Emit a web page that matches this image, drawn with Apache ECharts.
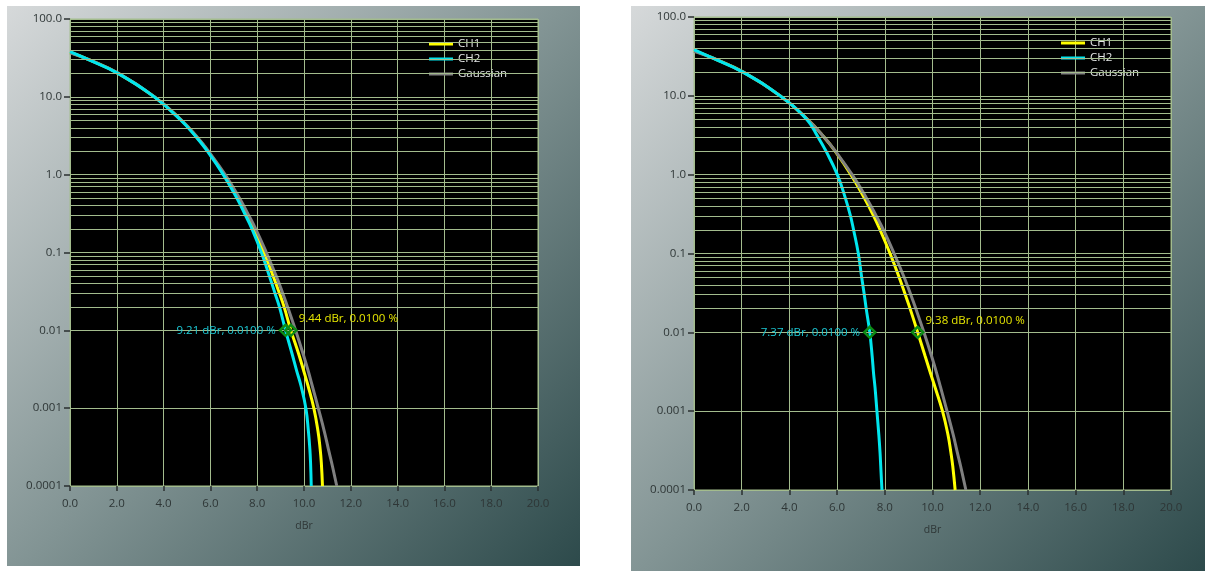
<!DOCTYPE html>
<html><head><meta charset="utf-8">
<script src="https://cdn.jsdelivr.net/npm/echarts@6/dist/echarts.min.js"></script>
<style>html,body{margin:0;padding:0;background:#fff;}#c{width:1205px;height:571px;}</style>
</head><body><div id="c"></div>
<script>
// ---- data ----
const xTickLabels = ['0.0','2.0','4.0','6.0','8.0','10.0','12.0','14.0','16.0','18.0','20.0'];
const yTickLabels = ['0.0001','0.001','0.01','0.1','1.0','10.0','100.0'];
const seriesNames = ['CH1','CH2','Gaussian'];
const xAxisName = 'dBr';
// probability levels (%) shared by the curves (after the x = 0 start point)
const levels = [30,20,10,5,3,2,1,0.5,0.3,0.2,0.1,0.05,0.03,0.02,0.01,0.005,0.003,0.002,0.001,0.0005,0.0003,0.0002,0.0001];
const gaussStart = 36.8;
const gaussX = [0.81,2.07,3.62,4.77,5.45,5.92,6.63,7.24,7.64,7.94,8.39,8.81,9.09,9.30,9.64,9.96,10.18,10.34,10.61,10.87,11.04,11.18,11.40];
// left panel
const leftCh1Start = 37.4;
const leftCh1X = [0.80,2.06,3.61,4.76,5.43,5.90,6.59,7.18,7.57,7.86,8.29,8.68,8.95,9.15,9.44,9.77,9.99,10.16,10.42,10.60,10.69,10.74,10.79];
const leftCh2Start = 38.0;
const leftCh2X = [0.79,2.05,3.60,4.74,5.41,5.87,6.55,7.13,7.50,7.78,8.18,8.52,8.76,8.95,9.21,9.49,9.69,9.86,10.08,10.19,10.25,10.28,10.31];
// right panel
const rightCh1Start = 37.4;
const rightCh1X = [0.80,2.07,3.62,4.77,5.45,5.91,6.58,7.15,7.53,7.80,8.22,8.60,8.86,9.06,9.38,9.69,9.92,10.11,10.42,10.65,10.77,10.85,10.95];
const rightCh2Start = 38.6;
const rightCh2X = [0.79,2.05,3.61,4.73,5.20,5.53,6.01,6.35,6.56,6.69,6.89,7.03,7.14,7.22,7.37,7.47,7.53,7.59,7.67,7.75,7.80,7.83,7.88];
// cursor markers at 0.01 %
const markerLevel = 0.01;
const leftMarkers = {CH1: 9.44, CH2: 9.21};
const rightMarkers = {CH1: 9.38, CH2: 7.37};
const minorMultipliers = [2,3,4,5,6,7,8,9];
const decades = [0.0001,0.001,0.01,0.1,1,10];

// ---- styling ----
const gridColor = '#a3bc8d';
const colors = {CH1:'#ffff00', CH2:'#00e6ee', Gaussian:'#808080'};
const labelColors = {CH1:'#e6e600', CH2:'#1cc8d4'};
const FONT = '"Open Sans", "Noto Sans", sans-serif';

function curve(start, xs){
  const d = [[0, start]];
  for (let i = 0; i < xs.length; i++) d.push([xs[i], levels[i]]);
  return d;
}
const minorVals = [];
decades.forEach(d => minorMultipliers.forEach(m => minorVals.push(+(m*d).toPrecision(3))));

const panels = [
  {grid:{left:70, top:19, width:468, height:467}, legend:{left:429, top:38},
   ch1: curve(leftCh1Start, leftCh1X), ch2: curve(leftCh2Start, leftCh2X), mk: leftMarkers},
  {grid:{left:694, top:17, width:477, height:473}, legend:{left:1061, top:37},
   ch1: curve(rightCh1Start, rightCh1X), ch2: curve(rightCh2Start, rightCh2X), mk: rightMarkers}
];

const bgGrad = () => new echarts.graphic.LinearGradient(0,0,1,1,[{offset:0,color:'#d6d9da'},{offset:0.5,color:'#829494'},{offset:1,color:'#2d4a4b'}]);
const option = {
  animation:false,
  backgroundColor:'#ffffff',
  graphic:[
    {type:'rect', z:-100, shape:{x:7,y:6,width:573,height:560}, style:{fill:bgGrad()}},
    {type:'rect', z:-100, shape:{x:631,y:6,width:574,height:565}, style:{fill:bgGrad()}}
  ],
  grid:[], xAxis:[], yAxis:[], legend:[], series:[]
};

panels.forEach((p, gi) => {
  option.grid.push(Object.assign({show:true, backgroundColor:'#000', borderColor:gridColor, borderWidth:1}, p.grid));
  option.xAxis.push({
    type:'value', gridIndex:gi, min:0, max:20, interval:2,
    name:xAxisName, nameLocation:'middle', nameGap:35,
    nameTextStyle:{color:'#2e3636', fontSize:10.5, fontFamily:FONT},
    axisLine:{show:true, lineStyle:{color:gridColor}},
    axisTick:{show:true, length:5, lineStyle:{color:'#2a2f2f', width:1.5}},
    axisLabel:{color:'#2e3636', fontSize:11.5, fontFamily:FONT, margin:12,
      formatter:v => xTickLabels[Math.round(v/2)]},
    splitLine:{show:true, lineStyle:{color:gridColor, width:1}}
  });
  option.yAxis.push({
    type:'log', logBase:10, gridIndex:gi, min:0.0001, max:100,
    axisLine:{show:true, lineStyle:{color:gridColor}},
    axisTick:{show:true, length:6, lineStyle:{color:'#2a2f2f', width:1.5}},
    axisLabel:{color:'#2e3636', fontSize:11.5, fontFamily:FONT, margin:8,
      formatter:v => yTickLabels[Math.round(Math.log10(v)) + 4]},
    splitLine:{show:true, lineStyle:{color:gridColor, width:1}}
  });
  option.legend.push({
    orient:'vertical', left:p.legend.left, top:p.legend.top, padding:0,
    itemWidth:24, itemHeight:3, itemGap:3,
    icon:'rect', data:seriesNames,
    textStyle:{color:'#e4e6e6', fontSize:11.5, fontFamily:FONT}
  });
  // minor log grid lines
  option.series.push({
    type:'line', xAxisIndex:gi, yAxisIndex:gi, data:[], z:1, silent:true,
    markLine:{silent:true, symbol:'none', animation:false, label:{show:false},
      lineStyle:{color:gridColor, width:1, type:'solid'},
      data:minorVals.map(v => ({yAxis:v}))}
  });
  const base = {type:'line', xAxisIndex:gi, yAxisIndex:gi, showSymbol:false, smooth:0.45, z:3};
  const mkp = (name) => ({
    symbol:'diamond', symbolSize:11, animation:false,
    itemStyle:{color:'rgba(0,0,0,0)', borderColor:'#0c8c14', borderWidth:2.5},
    label:{show:true, formatter: p.mk[name].toFixed(2) + ' dBr, ' + markerLevel.toFixed(4) + ' %',
      color:labelColors[name], fontSize:11.5, fontFamily:FONT,
      position: name === 'CH2' ? 'left' : 'right',
      distance: name === 'CH2' ? 3 : 1,
      offset: name === 'CH2' ? [0,0] : [0,-12]},
    data:[{coord:[p.mk[name], markerLevel]}]
  });
  option.series.push(Object.assign({}, base, {name:'CH1', data:p.ch1, lineStyle:{color:colors.CH1, width:3}, itemStyle:{color:colors.CH1}, markPoint:mkp('CH1')}));
  option.series.push(Object.assign({}, base, {name:'Gaussian', data:curve(gaussStart, gaussX), lineStyle:{color:colors.Gaussian, width:3}, itemStyle:{color:colors.Gaussian}}));
  option.series.push(Object.assign({}, base, {name:'CH2', data:p.ch2, lineStyle:{color:colors.CH2, width:3}, itemStyle:{color:colors.CH2}, markPoint:mkp('CH2')}));
});

const chart = echarts.init(document.getElementById('c'), null, {renderer:'canvas'});
chart.setOption(option);
</script>
</body></html>
